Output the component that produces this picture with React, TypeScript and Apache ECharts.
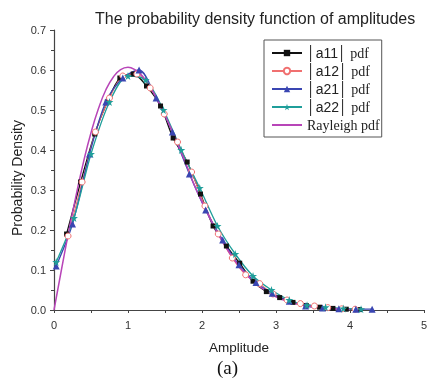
import React, { useEffect, useRef } from "react";
import * as echarts from "echarts";

const a11: [number, number][] = [
  [0.17, 0.19], [0.36, 0.32], [0.55, 0.44], [0.72, 0.52], [0.89, 0.58], [1.07, 0.59],
  [1.25, 0.56], [1.44, 0.51], [1.61, 0.43], [1.8, 0.37], [1.98, 0.29], [2.15, 0.21],
  [2.33, 0.16], [2.51, 0.117], [2.69, 0.072], [2.87, 0.046], [3.05, 0.031], [3.23, 0.019],
  [3.41, 0.011], [3.59, 0.007], [3.77, 0.004], [3.95, 0.002], [4.13, 0.001],
];
const a12: [number, number][] = [
  [0.19, 0.185], [0.38, 0.32], [0.56, 0.445], [0.75, 0.53], [0.93, 0.585], [1.12, 0.59],
  [1.3, 0.555], [1.49, 0.49], [1.67, 0.42], [1.86, 0.345], [2.04, 0.26], [2.22, 0.19],
  [2.41, 0.13], [2.59, 0.088], [2.78, 0.066], [2.96, 0.04], [3.15, 0.025], [3.33, 0.016],
  [3.52, 0.01], [3.7, 0.006], [3.89, 0.003], [4.07, 0.002],
];
const a21: [number, number][] = [
  [0.03, 0.11], [0.25, 0.215], [0.48, 0.39], [0.7, 0.52], [0.93, 0.58], [1.15, 0.6],
  [1.38, 0.53], [1.6, 0.445], [1.83, 0.34], [2.05, 0.25], [2.28, 0.175], [2.5, 0.113],
  [2.73, 0.069], [2.95, 0.042], [3.18, 0.022], [3.4, 0.01], [3.63, 0.005], [3.85, 0.003],
  [4.08, 0.002], [4.3, 0.002],
];
const a22: [number, number][] = [
  [0.03, 0.12], [0.27, 0.23], [0.5, 0.39], [0.75, 0.52], [1.0, 0.585], [1.24, 0.575],
  [1.48, 0.5], [1.72, 0.4], [1.97, 0.305], [2.21, 0.21], [2.45, 0.14], [2.69, 0.085],
  [2.94, 0.05], [3.18, 0.025], [3.42, 0.012], [3.67, 0.007], [3.91, 0.004], [4.15, 0.002],
];
const rayleigh: [number, number][] = [
  [0, 0], [0.1, 0.1], [0.2, 0.197], [0.3, 0.288], [0.4, 0.371], [0.5, 0.443], [0.6, 0.503],
  [0.7, 0.55], [0.8, 0.582], [0.9, 0.601], [1.0, 0.607], [1.1, 0.6], [1.2, 0.584],
  [1.3, 0.558], [1.4, 0.525], [1.5, 0.487], [1.6, 0.446], [1.7, 0.403], [1.8, 0.358],
  [1.9, 0.311], [2.0, 0.271], [2.2, 0.196], [2.4, 0.135], [2.6, 0.088], [2.8, 0.056],
  [3.0, 0.033], [3.2, 0.019], [3.4, 0.011], [3.6, 0.006], [3.8, 0.003], [4.0, 0.001],
];

const seriesNames = ["a11", "a12", "a21", "a22", "Rayleigh pdf"];
const titleText = "The probability density function of amplitudes";
const xName = "Amplitude";
const yName = "Probability Density";
const caption = "(a)";

const STAR = "path://M50,0 L61,35 L98,35 L68,57 L79,91 L50,70 L21,91 L32,57 L2,35 L39,35 Z";

const C_BLACK = "#111111";
const C_RED = "#f07070";
const C_BLUE = "#3a46b2";
const C_TEAL = "#1f9e9a";
const C_MAG = "#b845b8";

export default function App() {
  const ref = useRef<HTMLDivElement>(null);
  useEffect(() => {
    if (!ref.current) return;
    const chart = echarts.init(ref.current, undefined, { renderer: "svg" });
    const sans = "Liberation Sans, Arial, sans-serif";
    const serif = "Liberation Serif, Times New Roman, serif";
    const mk = (name: string, data: [number, number][], color: string, symbol: string, size: number) => ({
      name,
      type: "line",
      data,
      smooth: 0.3,
      symbol,
      symbolSize: size,
      showSymbol: symbol !== "none",
      lineStyle: { color, width: 1.3 },
      itemStyle: { color },
      z: 3,
    });
    chart.setOption({
      animation: false,
      title: {
        text: titleText,
        left: 90,
        top: 5,
        textStyle: { fontFamily: sans, fontSize: 16, fontWeight: "normal", color: "#222" },
      },
      legend: {
        orient: "vertical",
        left: 264,
        top: 40,
        padding: [6, 2, 5, 7],
        itemGap: 4,
        itemWidth: 30,
        itemHeight: 8,
        borderColor: "#555",
        borderWidth: 1,
        borderRadius: 0,
        data: [
          { name: seriesNames[0] },
          { name: seriesNames[1] },
          { name: seriesNames[2] },
          { name: seriesNames[3] },
          { name: seriesNames[4], itemStyle: { color: "rgba(0,0,0,0)", borderWidth: 0, opacity: 0 } },
        ],
        formatter: (n: string) =>
          n === "Rayleigh pdf" ? "{t|Rayleigh pdf}" : "{s|\u2502" + n + "\u2502} {t|pdf}",
        textStyle: {
          rich: {
            s: { fontFamily: sans, fontSize: 14, color: "#222" },
            t: { fontFamily: serif, fontSize: 14, color: "#222" },
          },
        },
      },
      grid: { left: 54, right: 1, top: 30, bottom: 71 },
      xAxis: {
        type: "value",
        min: 0,
        max: 5,
        interval: 1,
        name: xName,
        nameLocation: "middle",
        nameGap: 30,
        nameTextStyle: { fontFamily: sans, fontSize: 13.5, color: "#222" },
        axisLine: { show: true, onZero: false, lineStyle: { color: "#444", width: 1.2 } },
        axisTick: { show: true, inside: false, length: 3, lineStyle: { color: "#444" } },
        minorTick: { show: true, splitNumber: 2, length: 3, lineStyle: { color: "#444" } },
        splitLine: { show: false },
        axisLabel: { fontFamily: sans, fontSize: 11, color: "#333", margin: 9 },
      },
      yAxis: {
        type: "value",
        min: 0,
        max: 0.7,
        interval: 0.1,
        axisLine: { show: true, lineStyle: { color: "#444", width: 1.2 } },
        axisTick: { show: true, inside: false, length: 4, lineStyle: { color: "#444" } },
        minorTick: { show: true, splitNumber: 2, length: 3, lineStyle: { color: "#444" } },
        splitLine: { show: false },
        axisLabel: {
          fontFamily: sans,
          fontSize: 11,
          color: "#333",
          margin: 8,
          formatter: (v: number) => v.toFixed(1),
        },
      },
      series: [
        mk("a11", a11, C_BLACK, "rect", 5),
        {
          ...mk("a12", a12, C_RED, "circle", 6),
          itemStyle: { color: "#ffffff", borderColor: C_RED, borderWidth: 1 },
          lineStyle: { color: C_RED, width: 1.1 },
        },
        mk("a21", a21, C_BLUE, "triangle", 7),
        mk("a22", a22, C_TEAL, STAR, 8),
        { ...mk("Rayleigh pdf", rayleigh, C_MAG, "none", 0), smooth: true, lineStyle: { color: C_MAG, width: 1.5 } },
      ],
      graphic: [
        {
          type: "text",
          x: 17,
          y: 178,
          rotation: Math.PI / 2,
          style: {
            text: yName,
            font: "14px " + sans,
            fill: "#222",
            textAlign: "center",
            textVerticalAlign: "middle",
          },
        },
        {
          type: "text",
          left: 217,
          top: 358,
          style: { text: caption, font: "19px " + serif, fill: "#111" },
        },
      ],
    });
    return () => chart.dispose();
  }, []);
  return <div ref={ref} style={{ position: "fixed", left: 0, top: 0, width: 430, height: 381 }} />;
}
